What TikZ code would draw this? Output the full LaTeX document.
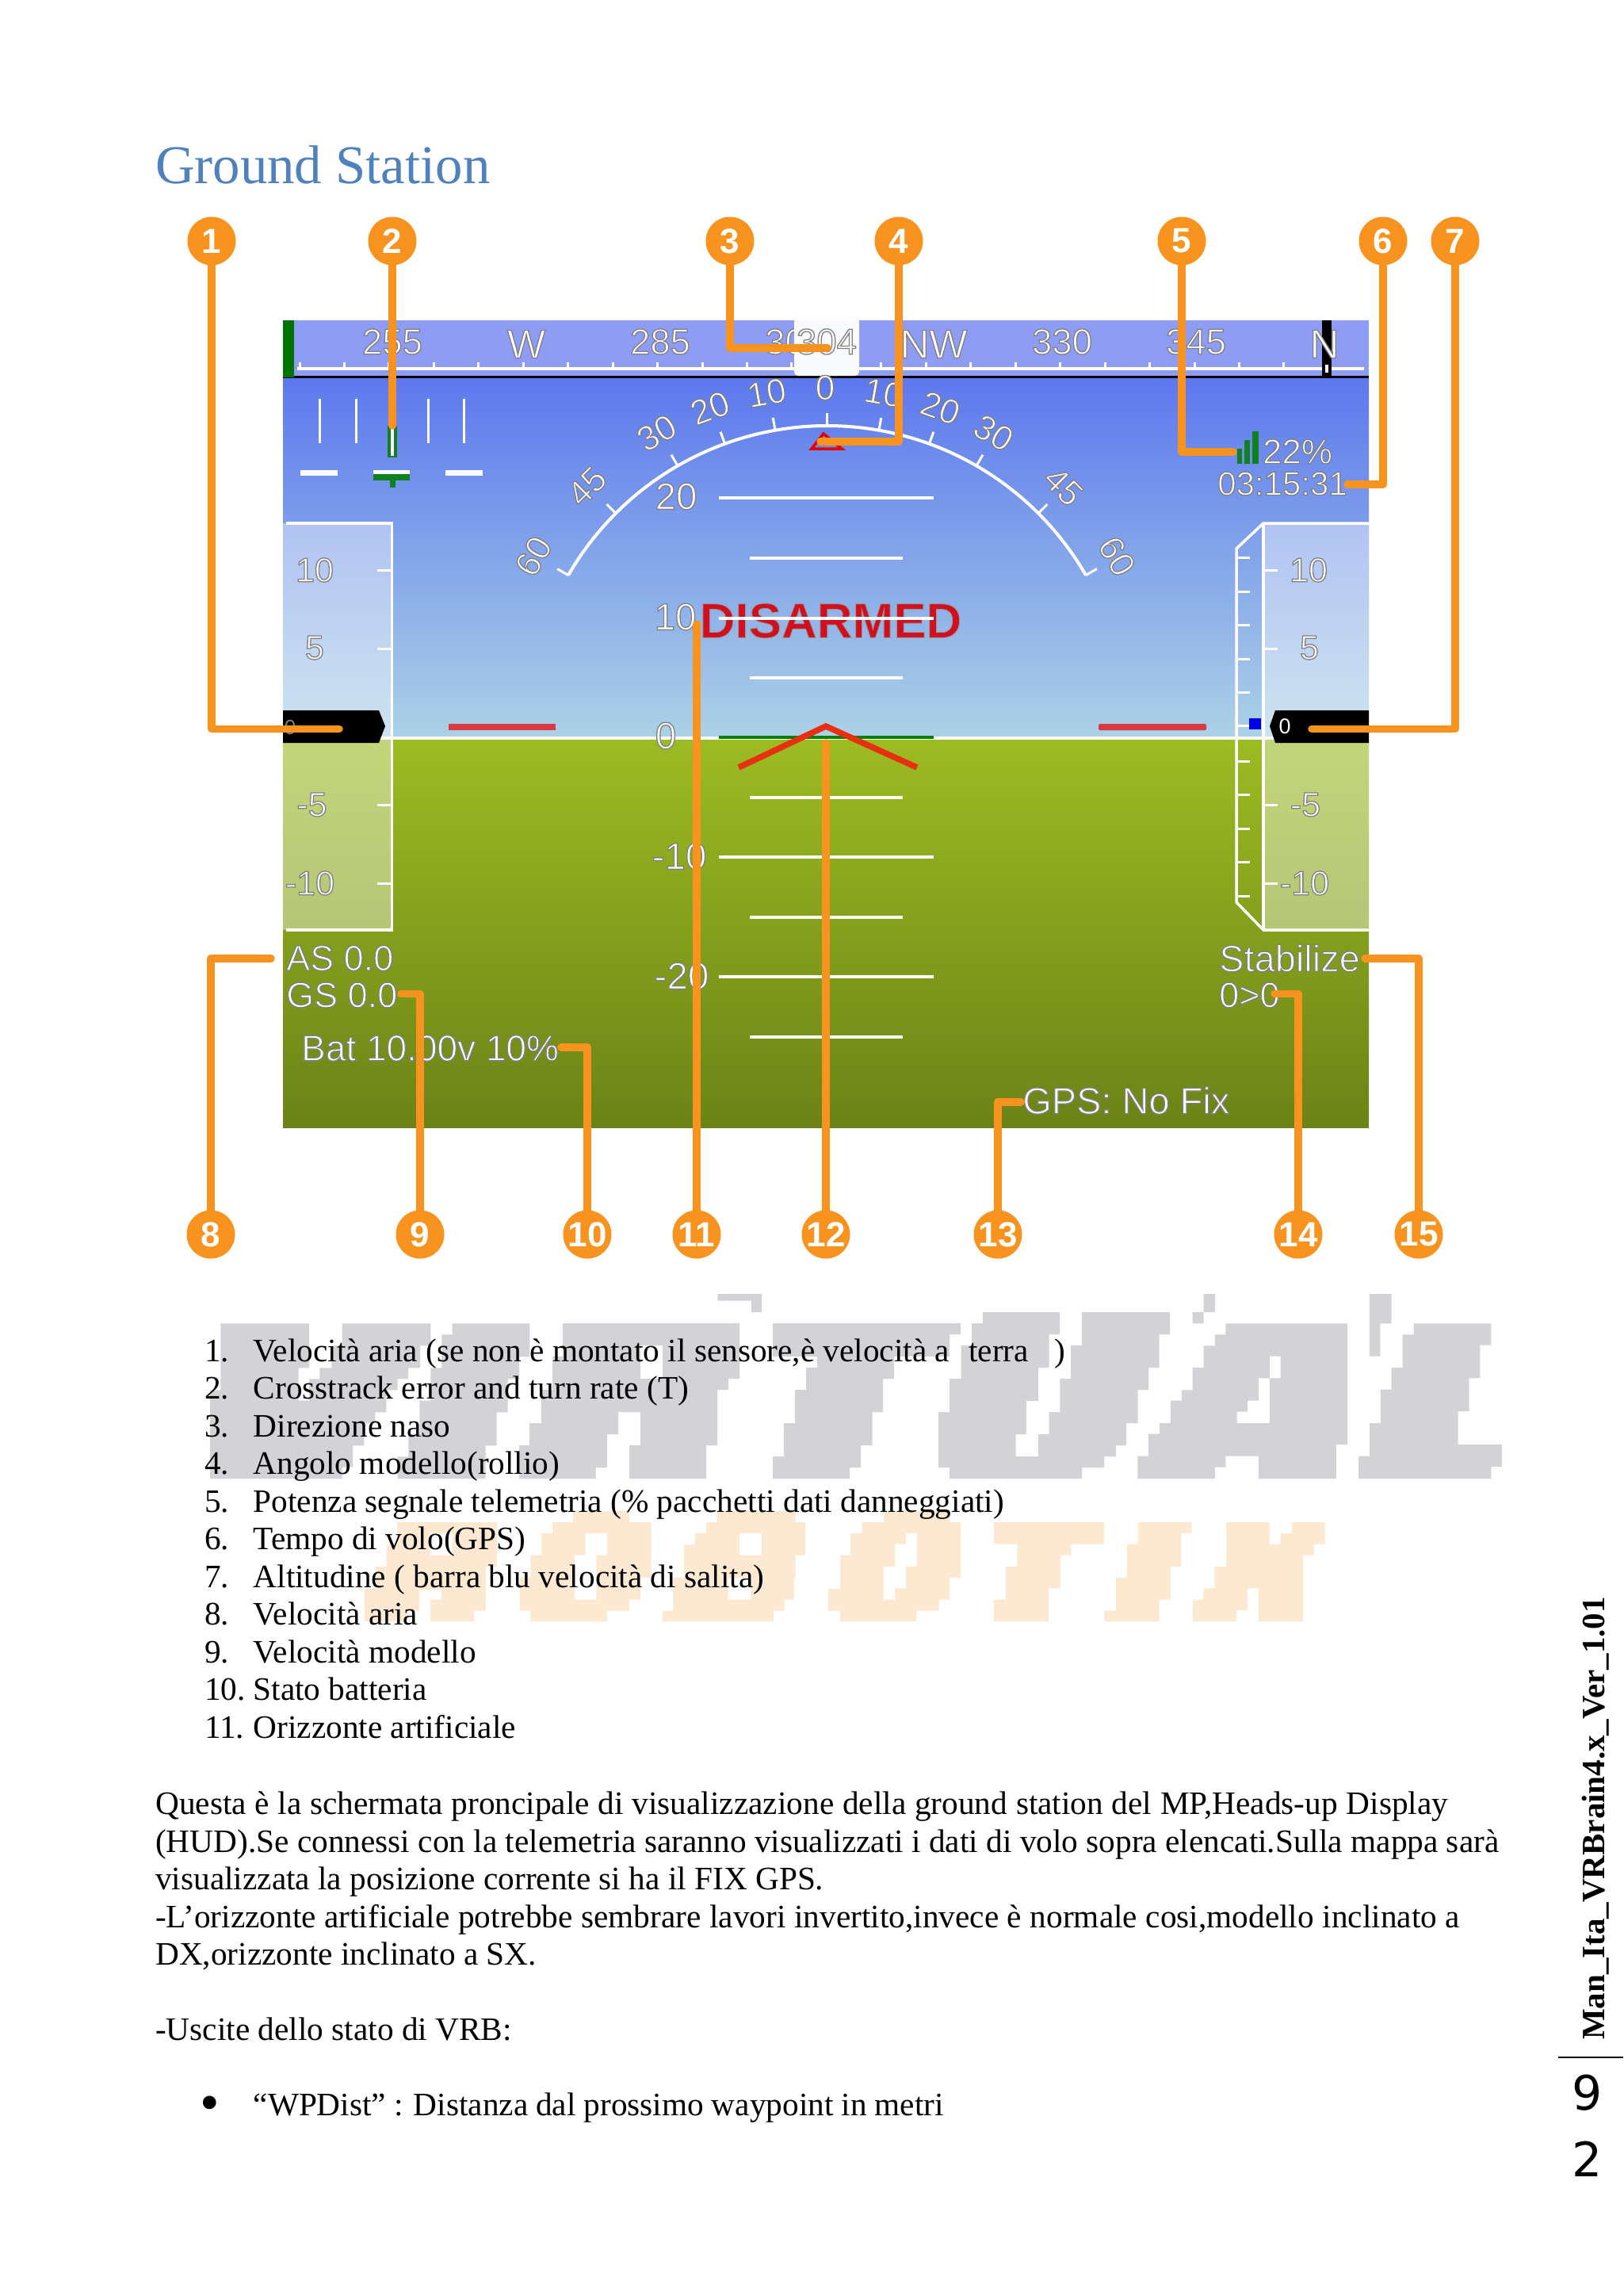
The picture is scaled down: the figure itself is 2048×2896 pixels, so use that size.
\documentclass[tikz,border=0pt]{standalone}
\usepackage{fontspec}
\setmainfont{Liberation Serif}
\newfontfamily\hudfam{Liberation Sans}
\newfontfamily\pagefam{DejaVu Sans}
\definecolor{leadc}{HTML}{F7931E}
\definecolor{skytop}{HTML}{5D78EE}
\definecolor{skybot}{HTML}{ACD2E6}
\definecolor{gndtop}{HTML}{9DBB22}
\definecolor{gndbot}{HTML}{6B8317}
\definecolor{barc}{HTML}{8E9CF4}
\definecolor{titlec}{HTML}{4F81BD}
\definecolor{wmgray}{HTML}{D3D2D7}
\definecolor{wmorange}{HTML}{FDE8D2}
\definecolor{redbar}{HTML}{D93A42}
\definecolor{chev}{HTML}{E83010}
\definecolor{gdark}{HTML}{108020}
\newcommand\hf[1]{\fontsize{#1}{#1}\selectfont\hudfam}
\newcommand\ol[1]{\special{pdf:code 2 Tr 0.5 0.5 0.5 RG 1.3 w}#1\special{pdf:code 0 Tr}}
\newcommand\olr[1]{\special{pdf:code 2 Tr 0.6 0.6 0.6 RG 1 w}#1\special{pdf:code 0 Tr}}
\tikzset{
  leader/.style={draw=leadc,line width=9.5pt,line cap=round,line join=round},
  badge/.style={circle,fill=leadc,text=white,minimum size=61pt,inner sep=0pt,font=\bfseries\hf{44}},
  hudtxt/.style={text=white,inner sep=0pt,font=\hf{#1}},
  hudtxt/.default=44,
  bodyline/.style={anchor=base west,inner sep=0pt,font=\fontsize{41.3}{47.5}\selectfont},
  wline/.style={draw=white,line width=3.5pt},
  tape/.style={fill=white,fill opacity=0.4},
  wtick/.style={draw=white,line width=3pt},
}
\begin{document}
\begin{tikzpicture}[x=1pt,y=-1pt]
\useasboundingbox (0,0) rectangle (2048,2896);
\fill[white] (0,0) rectangle (2048,2896);
% ---------- watermark
\begin{scope}[shift={(250,1620)},x=0.33333pt,y=-0.33333pt,wmgray]
\fill (85,148)--(420,148)--(420,316)--(380,316)--(380,440)--(420,440)--(420,358)--(460,358)--(460,316)--(505,316)--(505,232)--(545,232)--(545,148)--(880,148)--(880,232)--(840,232)--(840,316)--(795,316)--(795,358)--(755,358)--(755,400)--(712,400)--(712,484)--(670,484)--(670,526)--(628,526)--(628,610)--(585,610)--(585,692)--(545,692)--(545,735)--(45,735)--(45,400)--(85,400)--cycle;
\fill (962,148)--(1255,148)--(1255,274)--(1215,274)--(1215,358)--(1172,358)--(1172,484)--(1130,484)--(1130,610)--(1088,610)--(1088,735)--(755,735)--(755,652)--(796,652)--(796,566)--(838,566)--(838,440)--(880,440)--(880,316)--(922,316)--(922,190)--(962,190)--cycle;
\end{scope}
\begin{scope}[shift={(0,1669)},x=1pt,y=-14pt,wmgray]
\fill[even odd rule] (710,0)--(933,0)--(933,5)--(919,5)--(919,6)--(905,6)--(905,11)--(891,11)--(891,14)--(794,14)--(794,11)--(808,11)--(808,8)--(780,8)--(780,10)--(766,10)--(766,13)--(751.5,13)--(751.5,14)--(655,14)--(655,11)--(668,11)--(668,9)--(683,9)--(683,6)--(697,6)--(697,3)--(710,3)--cycle (808,2)--(836,2)--(836,5)--(808,5)--cycle;
\fill (975,0)--(1212,0)--(1212,1)--(1198,1)--(1198,3)--(1128,3)--(1128,5)--(1114,5)--(1114,8)--(1100.5,8)--(1100.5,11)--(1086,11)--(1086,13)--(1072,13)--(1072,14)--(975,14)--(975,12)--(989,12)--(989,9)--(1003,9)--(1003,6)--(1017,6)--(1017,4)--(1031,4)--(1031,3)--(975,3)--cycle;
\fill (1240,-1)--(1337,-1)--(1337,1)--(1323.6,1)--(1323.6,4)--(1310,4)--(1310,7)--(1295,7)--(1295,10)--(1281.5,10)--(1281.5,12)--(1310,12)--(1310,10)--(1323.6,10)--(1323.6,8)--(1337.4,8)--(1337.4,5)--(1351,5)--(1351,2)--(1365,2)--(1365,-1)--(1476,-1)--(1476,1)--(1462.5,1)--(1462.5,4)--(1449,4)--(1449,6)--(1435.5,6)--(1435.5,9)--(1421,9)--(1421,11)--(1408,11)--(1408,12)--(1393,12)--(1393,13)--(1365,13)--(1365,14)--(1198,14)--(1198,13)--(1184,13)--(1184,8)--(1198,8)--(1198,5)--(1212.6,5)--(1212.6,2)--(1226,2)--(1226,0)--(1240,0)--cycle;
\end{scope}
\begin{scope}[shift={(1330,1620)},x=0.37pt,y=-0.33333pt,wmgray]
\fill[even odd rule] (585,148)--(1000,148)--(1000,606)--(962,606)--(962,735)--(697,735)--(697,650)--(585,650)--(585,692)--(548,692)--(548,735)--(285,735)--(285,650)--(322,650)--(322,566)--(360,566)--(360,525)--(397,525)--(397,440)--(435,440)--(435,400)--(472,400)--(472,315)--(510,315)--(510,232)--(548,232)--(548,190)--(585,190)--cycle (735,272)--(772,272)--(772,355)--(735,355)--(735,525)--(623,525)--(623,482)--(660,482)--(660,440)--(697,440)--(697,355)--(735,355)--cycle;
\fill (510,36)--(548,36)--(548,105)--(510,105)--cycle (472,105)--(510,105)--(510,148)--(472,148)--cycle;
\fill (1075,36)--(1150,36)--(1150,148)--(1112,148)--(1112,272)--(1075,272)--cycle;
\fill (1226,148)--(1490,148)--(1490,230)--(1452,230)--(1452,355)--(1415,355)--(1415,480)--(1377,480)--(1377,606)--(1527,606)--(1527,690)--(1490,690)--(1490,735)--(1038,735)--(1038,650)--(1076,650)--(1076,525)--(1113,525)--(1113,398)--(1150,398)--(1150,315)--(1188,315)--(1188,190)--(1226,190)--cycle;
\end{scope}
\begin{scope}[shift={(740,1620)},x=0.3827pt,y=-0.33333pt,wmgray]
\fill (432,36)--(578,36)--(578,105)--(543,105)--(543,62)--(432,62)--cycle;
\end{scope}
\begin{scope}[shift={(450,1895)},x=0.3954pt,y=-0.33333pt,wmorange]
\fill[even odd rule] (130,75)--(448,75)--(448,243)--(412,243)--(412,410)--(375,410)--(375,450)--(235,450)--(235,368)--(270,368)--(270,330)--(200,330)--(200,410)--(165,410)--(165,450)--(25,450)--(25,327)--(60,327)--(60,243)--(95,243)--(95,160)--(130,160)--cycle (235,117)--(305,117)--(305,200)--(235,200)--cycle;
\fill[even odd rule] (690,33)--(870,33)--(870,75)--(940,75)--(940,285)--(905,285)--(905,368)--(870,368)--(870,410)--(800,410)--(800,450)--(555,450)--(555,410)--(520,410)--(520,285)--(555,285)--(555,200)--(590,200)--(590,117)--(625,117)--(625,75)--(690,75)--cycle (730,117)--(800,117)--(800,200)--(765,200)--(765,368)--(695,368)--(695,200)--(730,200)--cycle;
\fill[even odd rule] (1150,33)--(1400,33)--(1400,75)--(1432,75)--(1432,200)--(1400,200)--(1400,285)--(1395,285)--(1395,368)--(1365,368)--(1365,410)--(1330,410)--(1330,450)--(975,450)--(975,410)--(1010,410)--(1010,285)--(1045,285)--(1045,160)--(1080,160)--(1080,117)--(1115,117)--(1115,75)--(1150,75)--cycle (1222,117)--(1292,117)--(1292,200)--(1222,200)--cycle (1185,285)--(1258,285)--(1258,368)--(1185,368)--cycle;
\end{scope}
\begin{scope}[shift={(1060,1895)},x=0.3954pt,y=-0.33333pt,wmorange]
\fill[even odd rule] (140,33)--(350,33)--(350,75)--(385,75)--(385,285)--(350,285)--(350,368)--(315,368)--(315,410)--(243,410)--(243,450)--(0,450)--(0,410)--(-38,410)--(-38,327)--(0,327)--(0,200)--(33,200)--(33,117)--(70,117)--(70,75)--(140,75)--cycle (210,117)--(245,117)--(245,243)--(210,243)--(210,325)--(175,325)--(175,368)--(138,368)--(138,243)--(175,243)--(175,158)--(210,158)--cycle;
\fill (490,75)--(842,75)--(842,158)--(737,158)--(737,200)--(702,200)--(702,325)--(665,325)--(665,450)--(490,450)--(490,368)--(528,368)--(528,243)--(565,243)--(565,158)--(490,158)--cycle;
\fill (950,75)--(1122,75)--(1122,117)--(1088,117)--(1088,243)--(1055,243)--(1055,368)--(1018,368)--(1018,450)--(843,450)--(843,410)--(880,410)--(880,285)--(915,285)--(915,158)--(950,158)--cycle;
\fill (1232,75)--(1370,75)--(1370,158)--(1405,158)--(1405,117)--(1442,117)--(1442,75)--(1547,75)--(1547,158)--(1512,158)--(1512,200)--(1477,200)--(1477,450)--(1335,450)--(1335,325)--(1300,325)--(1300,408)--(1265,408)--(1265,450)--(1125,450)--(1125,368)--(1160,368)--(1160,325)--(1195,325)--(1195,243)--(1232,243)--cycle;
\end{scope}
% ---------- title
\node[anchor=base west,inner sep=0pt,text=titlec,font=\fontsize{68.8}{68.8}\selectfont] (title) at (196,231) {Ground Station};
% ---------- HUD background
\shade[top color=skytop,bottom color=skybot] (357,477) rectangle (1727,931);
\shade[top color=gndtop,bottom color=gndbot] (357,931) rectangle (1727,1422);
\fill[barc] (357,404) rectangle (1727,474);
\fill[black] (357,474) rectangle (1727,477);
\draw[white,line width=4pt] (375,465) -- (1721,465);
\foreach \k in {0,...,23} \draw[wtick] ({378+56.45*\k},465) -- ({378+56.45*\k},457);
\fill[green!45!black] (357,404) rectangle (371,476);
\fill[black] (1668,404) rectangle (1680,476);
\fill[white] (1672,460) rectangle (1676,470);
\node[hudtxt=45.5] (h255) at (495,431) {\ol{255}};
\node[hudtxt=51] (hW) at (664,434) {\ol{W}};
\node[hudtxt=45.5] (h285) at (833,431) {\ol{285}};
\node[hudtxt=45.5,anchor=west] (h300) at (965,431) {\ol{30}};
\node[hudtxt=51] (hNW) at (1178,434) {\ol{NW}};
\node[hudtxt=45.5] (h330) at (1340,431) {\ol{330}};
\node[hudtxt=45.5] (h345) at (1509,431) {\ol{345}};
\node[hudtxt=51] (hN) at (1671,434) {\ol{N}};
\fill[rounded corners=5pt,fill=white!95!barc] (1002,400) rectangle (1084,474);
\fill[white] (1002,398) rectangle (1084,404);
\node[hudtxt=45.5] (h304) at (1043,431) {\ol{304}};
% crosstrack and turn rate
\foreach \xx in {403,449,540,585} \draw[wtick] (\xx,503) -- (\xx,559);
\fill[gdark] (489,537) rectangle (501,577);
\fill[white] (493,537) rectangle (497,575);
\foreach \xa/\xb in {379/426,471/517,562/609} \fill[white] (\xa,592.5) rectangle (\xb,599.5);
\fill[gdark] (471,598) rectangle (517,606);
\fill[gdark] (491.5,606) rectangle (498.5,615);
% roll arc
\draw[white,line width=4pt,line join=round] plot[domain=-60:60,samples=121] ({1043.5+377*sin(\x)},{914-377*cos(\x)});
\foreach \a in {-60,-45,-30,-20,-10,0,10,20,30,45,60}
  \draw[wtick] ({1043.5+377*sin(\a)},{914-377*cos(\a)}) -- ({1043.5+393*sin(\a)},{914-393*cos(\a)});
\foreach \a/\t/\n in {-60/60/a,-45/45/b,-30/30/c,-20/20/d,-10/10/e,0/0/f,10/10/g,20/20/h,30/30/i,45/45/j,60/60/k}
  \node[hudtxt=44,rotate={-\a}] (roll\n) at ({1041+425*sin(\a)},{914-425*cos(\a)}) {\ol{\t}};
% DISARMED under ladder
\node[inner sep=0pt,text={rgb,255:red,208;green,16;blue,32},font=\bfseries\hf{62}] (disarmed) at (1048,783) {\olr{DISARMED}};
% pitch ladder
\foreach \yy in {628,780,1081,1232} \draw[wline] (907,\yy) -- (1178,\yy);
\foreach \yy in {704,855,1006,1157,1308} \draw[wline] (946,\yy) -- (1139,\yy);
\draw[white,line width=4pt] (357,931) -- (1727,931);
\draw[green!50!black,line width=3.5pt] (907,930) -- (1178,930);
\node[hudtxt=47.5] (p20) at (853,626) {\ol{20}};
\node[hudtxt=47.5] (p10) at (852,778) {\ol{10}};
\node[hudtxt=47.5] (p0) at (840,928) {\ol{0}};
\node[hudtxt=47.5] (pm10) at (857,1080) {\ol{-10}};
\node[hudtxt=47.5] (pm20) at (860,1231) {\ol{-20}};
% red bars, chevron, roll pointer
\fill[redbar] (566,913) rectangle (701,921);
\fill[redbar,rounded corners=2pt] (1386,913) rectangle (1522,921);
\draw[chev,line width=7.5pt] (932,968) -- (1042,916) -- (1157,968);
\draw[red!90!black,line width=3.5pt,line join=miter] (1039,547) -- (1024,566) -- (1062,566) -- cycle;
% tapes
\fill[tape] (357,660) rectangle (494.5,1173);
\draw[white,line width=3.5pt] (361,660) -- (494.5,660) -- (494.5,1173) -- (361,1173);
\foreach \yy in {719,818,1015,1114} \draw[wtick] (476,\yy) -- (494.5,\yy);
\node[hudtxt=43] (s10) at (397,719) {\ol{10}};
\node[hudtxt=43] (s5) at (397,817) {\ol{5}};
\node[hudtxt=43] (sm5) at (393.5,1015) {\ol{-5}};
\node[hudtxt=43] (sm10) at (391,1114) {\ol{-10}};
\fill[tape] (1594,660) rectangle (1727,1173);
\draw[white,line width=3.5pt] (1727,660) -- (1594,660) -- (1560,692) -- (1560,1138) -- (1594,1173) -- (1727,1173);
\draw[white,line width=3.5pt] (1594,660) -- (1594,1173);
\foreach \yy in {719,818,1015,1114} \draw[wtick] (1594,\yy) -- (1612,\yy);
\foreach \yy in {703,746,788,831.5,873,915.5,960,1002,1045,1087,1130} \draw[wtick] (1560,\yy) -- (1577,\yy);
\node[hudtxt=43] (a10) at (1651,719) {\ol{10}};
\node[hudtxt=43] (a5) at (1652,817) {\ol{5}};
\node[hudtxt=43] (am5) at (1647,1015) {\ol{-5}};
\node[hudtxt=43] (am10) at (1646,1114) {\ol{-10}};
\fill[blue!90!black] (1576,906) rectangle (1591,919.5);
\fill[black] (357,896) -- (478,896) -- (486,916) -- (478,937) -- (357,937) -- cycle;
\node[inner sep=0pt,text=gray,font=\hf{26}] (s0) at (366,918) {0};
\fill[black] (1727,896) -- (1609,896) -- (1602,916) -- (1609,937) -- (1727,937) -- cycle;
\node[inner sep=0pt,text=white,font=\hf{27}] (a0) at (1621,916) {0};
% signal and status
\fill[gdark] (1561,566) rectangle (1567,585);
\fill[gdark] (1570,555) rectangle (1577,585);
\fill[gdark] (1580,544) rectangle (1588,585);
\node[hudtxt=44] (sig) at (1637,569.5) {\ol{22\%}};
\node[hudtxt=42] (time) at (1618,610) {\ol{03:15:31}};
\node[hudtxt=45,anchor=west] (as) at (361,1208.5) {\ol{AS 0.0}};
\node[hudtxt=45,anchor=west] (gs) at (361,1255) {\ol{GS 0.0}};
\node[hudtxt=46,anchor=west] (bat) at (380,1322) {\ol{Bat 10.00v 10\%}};
\node[hudtxt=47,anchor=west] (mode) at (1538,1208.5) {\ol{Stabilize}};
\node[hudtxt=45,anchor=west] (wp) at (1538,1255) {\ol{0>0}};
\node[hudtxt=47,anchor=west] (gps) at (1290,1388) {\ol{GPS: No Fix}};
% ---------- badges
\node[badge] (c1) at (267,304) {1};
\node[badge] (c2) at (495,304) {2};
\node[badge] (c3) at (921,304) {3};
\node[badge] (c4) at (1134,304) {4};
\node[badge] (c5) at (1491,304) {5};
\node[badge] (c6) at (1745,304) {6};
\node[badge] (c7) at (1836,304) {7};
\node[badge] (c8) at (266,1557) {8};
\node[badge] (c9) at (530,1557) {9};
\node[badge] (c10) at (741,1557) {10};
\node[badge] (c11) at (879,1557) {11};
\node[badge] (c12) at (1042,1557) {12};
\node[badge] (c13) at (1259,1557) {13};
\node[badge] (c14) at (1638,1557) {14};
\node[badge] (c15) at (1790,1557) {15};
\coordinate (e1) at (428,919.5);
\coordinate (e2) at (495,537);
\coordinate (e3) at (1044,439);
\coordinate (e4) at (1035,557);
\coordinate (e5) at (1556,570);
\coordinate (e6) at (1700,611);
\coordinate (e7) at (1655,919.5);
\coordinate (e8) at (342,1209);
\coordinate (e9) at (506,1253.5);
\coordinate (e10) at (708,1321);
\coordinate (e11) at (879,787);
\coordinate (e12) at (1042,937);
\coordinate (e13) at (1288,1390);
\coordinate (e14) at (1608,1253.5);
\coordinate (e15) at (1722,1209);
\draw[leader] (c1.south) |- (e1);
\draw[leader] (c2.south) -- (e2);
\draw[leader] (c3.south) |- (e3);
\draw[leader] (c4.south) |- (e4);
\draw[leader] (c5.south) |- (e5);
\draw[leader] (c6.south) |- (e6);
\draw[leader] (c7.south) |- (e7);
\draw[leader] (c8.north) |- (e8);
\draw[leader] (c9.north) |- (e9);
\draw[leader] (c10.north) |- (e10);
\draw[leader] (c11.north) -- (e11);
\draw[leader] (c12.north) -- (e12);
\draw[leader] (c13.north) |- (e13);
\draw[leader] (c14.north) |- (e14);
\draw[leader] (c15.north) |- (e15);
% ---------- list
\foreach \nn/\yy/\tt in {
 1/1717/{Velocità aria (se non è montato il sensore,è velocità a\hspace{24pt}terra\hspace{33pt})},
 2/1764.5/{Crosstrack error and turn rate (T)},
 3/1812/{Direzione naso},
 4/1859.5/{Angolo modello(rollio)},
 5/1907/{Potenza segnale telemetria (\% pacchetti dati danneggiati)},
 6/1954.5/{Tempo di volo(GPS)},
 7/2002/{Altitudine ( barra blu velocità di salita)},
 8/2049.5/{Velocità aria},
 9/2097/{Velocità modello},
 10/2144.5/{Stato batteria},
 11/2192/{Orizzonte artificiale}}{
  \node[bodyline] (num\nn) at (258,\yy) {\nn.};
  \node[bodyline] (item\nn) at (319.5,\yy) {\tt};
}
\node[bodyline] (par1) at (196,2288.5) {\spaceskip=10.8pt Questa è la schermata proncipale di visualizzazione della ground station del MP,Heads-up Display};
\node[bodyline] (par2) at (196,2336) {(HUD).Se connessi con la telemetria saranno visualizzati i dati di volo sopra elencati.Sulla mappa sarà};
\node[bodyline] (par3) at (196,2383.5) {visualizzata la posizione corrente si ha il FIX GPS.};
\node[bodyline] (par4) at (196,2431) {\spaceskip=10.6pt -L’orizzonte artificiale potrebbe sembrare lavori invertito,invece è normale cosi,modello inclinato a};
\node[bodyline] (par5) at (196,2478.5) {DX,orizzonte inclinato a SX.};
\node[bodyline] (par6) at (196,2573.5) {-Uscite dello stato di VRB:};
\node[inner sep=0pt,font=\fontsize{70}{70}\selectfont] (bul) at (265,2659.5) {•};
\node[bodyline] (par7) at (319.5,2668.5) {\spaceskip=9.9pt “WPDist” : Distanza dal prossimo waypoint in metri};
% ---------- margin
\node[anchor=base west,inner sep=0pt,rotate=90,font=\bfseries\fontsize{41}{41}\selectfont] (ver) at (2024,2573) {Man\_Ita\_VRBrain4.x\_Ver\_1.01};
\coordinate (pl) at (1966,2595);
\coordinate (pr) at (2048,2595);
\draw[line width=1.8pt] (pl) -- (pr);
\node[inner sep=0pt,font=\fontsize{60}{60}\selectfont\pagefam] (pg9) at (2003,2640) {9};
\node[inner sep=0pt,font=\fontsize{60}{60}\selectfont\pagefam] (pg2) at (2003,2723) {2};
\end{tikzpicture}
\end{document}
